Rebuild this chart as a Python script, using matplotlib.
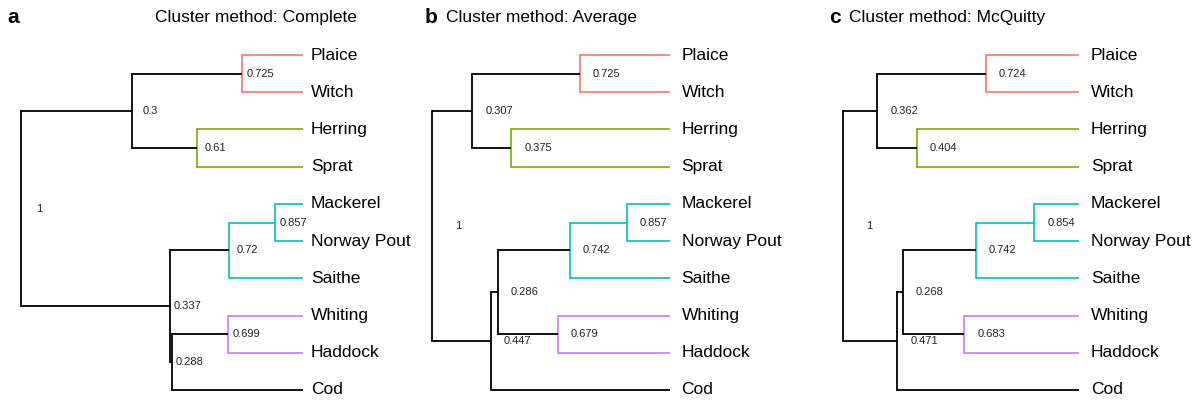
import matplotlib
matplotlib.use("Agg")
import matplotlib.pyplot as plt
from matplotlib.transforms import offset_copy

plt.rcParams['font.family'] = ['Liberation Sans', 'DejaVu Sans']

leaves = ["Plaice", "Witch", "Herring", "Sprat", "Mackerel", "Norway Pout",
          "Saithe", "Whiting", "Haddock", "Cod"]

children_a = [("Plaice", "Witch"), ("Herring", "Sprat"), ("n0", "n1"),
              ("Mackerel", "Norway Pout"), ("n3", "Saithe"), ("Whiting", "Haddock"),
              ("n5", "Cod"), ("n4", "n6"), ("n2", "n7")]
children_bc = [("Plaice", "Witch"), ("Herring", "Sprat"), ("n0", "n1"),
               ("Mackerel", "Norway Pout"), ("n3", "Saithe"), ("Whiting", "Haddock"),
               ("n4", "n5"), ("n6", "Cod"), ("n2", "n7")]

heights_a = [0.216, 0.376, 0.606, 0.099, 0.262, 0.266, 0.466, 0.473, 1.0]
heights_b = [0.378, 0.667, 0.831, 0.182, 0.421, 0.471, 0.723, 0.752, 1.0]
heights_c = [0.396, 0.687, 0.854, 0.190, 0.437, 0.487, 0.745, 0.769, 1.0]

labels_a = ["0.725", "0.61", "0.3", "0.857", "0.72", "0.699", "0.288", "0.337", "1"]
labels_b = ["0.725", "0.375", "0.307", "0.857", "0.742", "0.679", "0.286", "0.447", "1"]
labels_c = ["0.724", "0.404", "0.362", "0.854", "0.742", "0.683", "0.268", "0.471", "1"]

titles = ["Cluster method: Complete", "Cluster method: Average", "Cluster method: McQuitty"]
panel_letters = ["a", "b", "c"]

cluster_colors = {"n0": "#F8766D", "n1": "#7CAE00", "n4": "#00BFC4", "n3": "#00BFC4",
                  "n5": "#C77CFF"}

W, H = 1201, 401
fig = plt.figure(figsize=(W / 100, H / 100), dpi=100)

# pixel layout: (root_x, leaf_x, label_offset_px, leaf_label_pad_px)
layouts = [(21, 303, 18, 8), (431.7, 670, 27, 11.5), (842.7, 1079.3, 27, 11.5)]
title_centers = [255.5, 541, 947.5]
letter_x = [7.5, 425, 829]
y_top, y_bot = 55, 390

panels = [(children_a, heights_a, labels_a), (children_bc, heights_b, labels_b),
          (children_bc, heights_c, labels_c)]

for p, ((children, heights, labels), (rx, lx, loff, lpad)) in enumerate(zip(panels, layouts)):
    ax = fig.add_axes([rx / W, (H - y_bot) / H, (lx - rx) / W, (y_bot - y_top) / H])
    ax.set_xlim(1.0, 0.0)
    ax.set_ylim(len(leaves) - 1, 0)
    ax.axis("off")

    pos = {name: (i, 0.0) for i, name in enumerate(leaves)}
    for k, (c1, c2) in enumerate(children):
        name = f"n{k}"
        y1, h1 = pos[c1]
        y2, h2 = pos[c2]
        h = heights[k]
        col = cluster_colors.get(name, "black")
        lw = 1.2 if name in cluster_colors else 1.3
        ax.plot([h, h1], [y1, y1], color=col, lw=lw, solid_capstyle="butt", clip_on=False)
        ax.plot([h, h2], [y2, y2], color=col, lw=lw, solid_capstyle="butt", clip_on=False)
        ax.plot([h, h], [y1, y2], color=col, lw=lw, solid_capstyle="projecting", clip_on=False)
        y = (y1 + y2) / 2
        pos[name] = (y, h)
        tr = offset_copy(ax.transData, fig=fig, x=loff * 0.72, y=0, units="points")
        ax.text(h, y, labels[k], transform=tr, ha="center", va="center",
                fontsize=8, color="#222222", clip_on=False)

    tr_leaf = offset_copy(ax.transData, fig=fig, x=lpad * 0.72, y=0, units="points")
    for i, name in enumerate(leaves):
        ax.text(0.0, i, name, transform=tr_leaf, ha="left", va="center",
                fontsize=12.5, color="black", clip_on=False)

    fig.text(title_centers[p] / W, 1 - 17.5 / H, titles[p], ha="center", va="center",
             fontsize=12.5)
    fig.text(letter_x[p] / W, 1 - 17.5 / H, panel_letters[p], ha="left", va="center",
             fontsize=15, fontweight="bold")

fig.savefig("out.png", dpi=100)
